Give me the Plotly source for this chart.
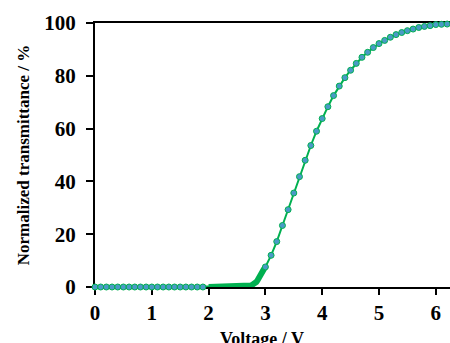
import plotly.graph_objects as go

# Low-voltage region (0.1 V steps)
v_low = [0.0, 0.1, 0.2, 0.3, 0.4, 0.5, 0.6, 0.7, 0.8, 0.9,
         1.0, 1.1, 1.2, 1.3, 1.4, 1.5, 1.6, 1.7, 1.8, 1.9]
t_low = [0, 0, 0, 0, 0, 0, 0, 0, 0, 0,
         0, 0, 0, 0, 0, 0, 0, 0, 0, 0]

# Dense region near threshold (0.02 V steps)
v_dense = [2.00, 2.02, 2.04, 2.06, 2.08, 2.10, 2.12, 2.14, 2.16, 2.18,
           2.20, 2.22, 2.24, 2.26, 2.28, 2.30, 2.32, 2.34, 2.36, 2.38,
           2.40, 2.42, 2.44, 2.46, 2.48, 2.50, 2.52, 2.54, 2.56, 2.58,
           2.60, 2.62, 2.64, 2.66, 2.68, 2.70, 2.72, 2.74, 2.76, 2.78,
           2.80, 2.82, 2.84, 2.86, 2.88, 2.90, 2.92, 2.94, 2.96, 2.98]
t_dense = [0, 0, 0, 0, 0, 0, 0, 0, 0, 0,
           0, 0, 0, 0, 0, 0, 0, 0, 0, 0,
           0, 0, 0, 0, 0, 0, 0.02, 0.03, 0.05, 0.07,
           0.10, 0.13, 0.17, 0.22, 0.28, 0.35, 0.45, 0.55, 0.70, 0.90,
           1.15, 1.5, 1.9, 2.5, 3.1, 3.8, 4.6, 5.4, 6.2, 7.0]

# Rising / saturation region (0.1 V steps)
v_high = [3.0, 3.1, 3.2, 3.3, 3.4, 3.5, 3.6, 3.7, 3.8, 3.9,
          4.0, 4.1, 4.2, 4.3, 4.4, 4.5, 4.6, 4.7, 4.8, 4.9,
          5.0, 5.1, 5.2, 5.3, 5.4, 5.5, 5.6, 5.7, 5.8, 5.9,
          6.0, 6.1, 6.2]
t_high = [7.6, 12.0, 17.2, 23.3, 29.3, 35.6, 41.8, 48.0, 53.6, 59.0,
          63.8, 68.3, 72.5, 76.1, 79.3, 82.1, 84.7, 87.0, 88.9, 90.7,
          92.2, 93.4, 94.6, 95.6, 96.4, 97.1, 97.7, 98.3, 98.7, 99.0,
          99.4, 99.5, 99.6]

x_ticks = [0, 1, 2, 3, 4, 5, 6]
y_ticks = [0, 20, 40, 60, 80, 100]

FONT = "Liberation Serif"
GREEN = "#00b050"
BLUE = "#4a9ac6"

fig = go.Figure()
# full curve line
fig.add_trace(go.Scatter(
    x=v_low + v_dense + v_high, y=t_low + t_dense + t_high, mode="lines",
    line=dict(color=GREEN, width=2), cliponaxis=False, showlegend=False, hoverinfo="skip",
))
# dense measurement points: overlapping markers form a solid band
fig.add_trace(go.Scatter(
    x=v_dense, y=t_dense, mode="lines",
    line=dict(color=GREEN, width=6), cliponaxis=False, showlegend=False,
))
# sparse measurement points
fig.add_trace(go.Scatter(
    x=v_low + v_high, y=t_low + t_high, mode="markers",
    marker=dict(size=6, color=BLUE, line=dict(color=GREEN, width=1)),
    cliponaxis=False, showlegend=False,
))

fig.update_layout(
    width=450, height=343,
    margin=dict(l=95, r=0, t=23, b=56),
    plot_bgcolor="white", paper_bgcolor="white",
    font=dict(family=FONT, color="black"),
)
fig.update_xaxes(
    range=[0, 6.25], tickvals=x_ticks, ticktext=[f"<b>{v}</b>" for v in x_ticks],
    showgrid=False, zeroline=False, showline=True, linecolor="black", linewidth=2,
    mirror=True, ticks="outside", ticklen=6, tickwidth=1.5, tickcolor="black",
    tickfont=dict(size=21, family=FONT), layer="below traces",
)
fig.update_yaxes(
    range=[0, 100], tickvals=y_ticks, ticktext=[f"<b>{v}</b>" for v in y_ticks],
    showgrid=False, zeroline=False, showline=True, linecolor="black", linewidth=2,
    ticks="outside", ticklen=7, tickwidth=1.5, tickcolor="black",
    tickfont=dict(size=21, family=FONT), ticklabelstandoff=6, layer="below traces",
    title=dict(text="<b>Normalized transmittance / %</b>", font=dict(size=17, family=FONT), standoff=10),
)
fig.add_annotation(
    text="<b>Voltage / V</b>", xref="paper", yref="paper", x=0.471, y=-0.152,
    xanchor="center", yanchor="top", showarrow=False, font=dict(size=18, family=FONT),
)

fig.write_html("out.html")
